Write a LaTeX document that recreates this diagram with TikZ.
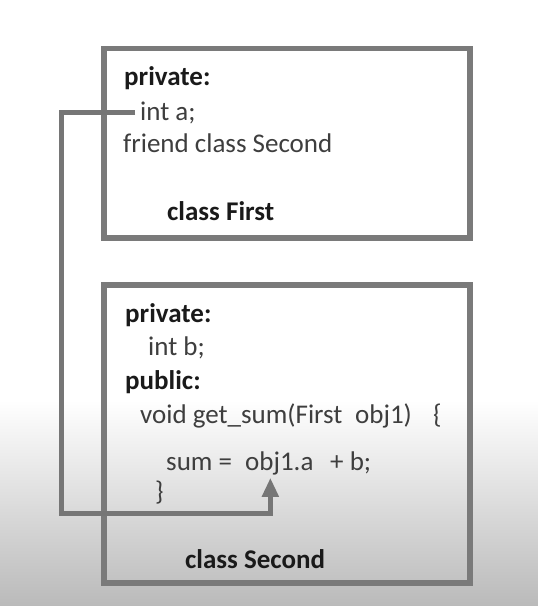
\documentclass[tikz,border=0pt]{standalone}
\usepackage{fontspec}
\setmainfont{Carlito}
\usetikzlibrary{arrows.meta,calc}

\definecolor{frame}{RGB}{122,122,122}
\definecolor{wire}{RGB}{118,118,118}
\definecolor{code}{RGB}{62,62,62}
\definecolor{head}{RGB}{26,26,26}
\definecolor{shadeend}{RGB}{186,186,186}

\begin{document}
\begin{tikzpicture}[x=1pt,y=1pt,
  txt/.style={anchor=base west, inner sep=0pt, font=\fontsize{27}{32}\selectfont, text=code},
  kw/.style={txt, font=\fontsize{27}{32}\selectfont\bfseries, text=head},
  classbox/.style={draw=frame, line width=5.5pt, anchor=north west, inner sep=0pt, outer sep=0pt, minimum width=366pt},
  conn/.style={draw=wire, line width=5pt, -{Triangle[width=16pt,length=19pt]}}]

  % page and the soft grey band at the bottom
  \useasboundingbox (0,0) rectangle (538,-606);
  \fill[white] (0,0) rectangle (538,-400);
  \shade[top color=white, bottom color=shadeend] (0,-400) rectangle (538,-606);

  % the two classes
  \node[classbox, minimum height=189.5pt] (first) at (104,-48.5) {};
  \node[classbox, minimum height=298pt] (second) at (104,-285) {};

  % class First
  \node[kw]  (priv1)  at (124,-85)  {private:};
  \node[txt] (inta)   at (140,-120) {int a;};
  \node[txt] (friend) at (123,-152) {friend class Second};
  \node[kw]  (cfirst) at (167,-220) {class First};

  % class Second
  \node[kw]  (priv2)  at (125,-322) {private:};
  \node[txt] (intb)   at (148,-355) {int b;};
  \node[kw]  (pub)    at (125,-389) {public:};
  \node[txt] (getsum) at (140,-423) {void get\_sum(First};
  \node[txt] (param)  at (355,-423) {obj1)};
  \node[txt] (open)   at (433,-423) {\{};
  \node[txt] (sumeq)  at (166,-470) {sum =};
  \node[txt] (obj)    at (245,-470) {obj1.a};
  \node[txt] (plusb)  at (330,-470) {+ b;};
  \node[txt] (close)  at (155,-500) {\}};
  \node[kw]  (csecond) at (185,-568) {class Second};

  % access of the private member through the friend class
  \coordinate (tip) at ($(obj.south)+(-9,-3)$);
  \draw[conn] ($(inta.base west)+(-5,8)$) -| (61,-513) -| (tip);
\end{tikzpicture}
\end{document}
